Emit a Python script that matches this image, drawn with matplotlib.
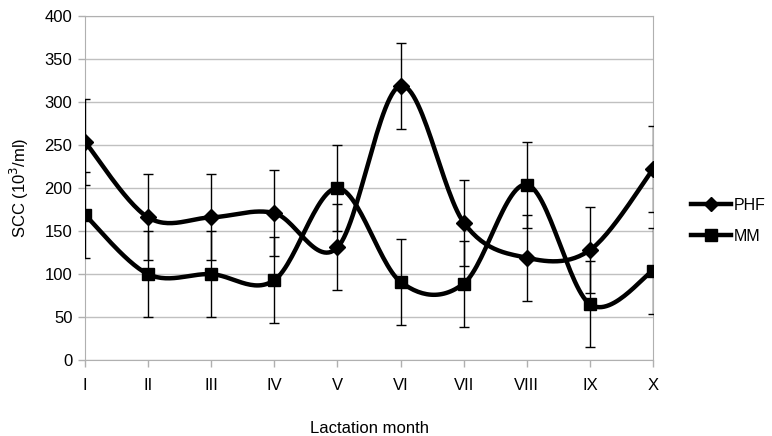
import matplotlib
matplotlib.use("Agg")
import matplotlib.pyplot as plt
import numpy as np

plt.rcParams['font.family'] = ['Liberation Sans', 'DejaVu Sans']

months = ["I", "II", "III", "IV", "V", "VI", "VII", "VIII", "IX", "X"]
phf = [254, 166, 166, 171, 131, 319, 160, 119, 128, 222]
mm = [169, 100, 100, 93, 200, 91, 89, 204, 65, 104]
phf_err = [50, 50, 50, 50, 50, 50, 50, 50, 50, 50]
mm_err = [50, 50, 50, 50, 50, 50, 50, 50, 50, 50]


def smooth(x, y, n=30):
    # catmull-rom like the spreadsheet's "smoothed line"
    x = np.asarray(x, float)
    y = np.asarray(y, float)
    px = np.concatenate([[x[0]], x, [x[-1]]])
    py = np.concatenate([[y[0]], y, [y[-1]]])
    xs, ys = [], []
    t = np.linspace(0, 1, n)
    for i in range(1, len(px) - 2):
        p0, p1, p2, p3 = (np.array([px[j], py[j]]) for j in range(i - 1, i + 3))
        c1 = p1 + (p2 - p0) / 6
        c2 = p2 - (p3 - p1) / 6
        b = ((1 - t) ** 3)[:, None] * p1 + (3 * (1 - t) ** 2 * t)[:, None] * c1 \
            + (3 * (1 - t) * t ** 2)[:, None] * c2 + (t ** 3)[:, None] * p2
        xs.extend(b[:, 0])
        ys.extend(b[:, 1])
    return np.array(xs), np.array(ys)


fig = plt.figure(figsize=(7.72, 4.36), dpi=100)
ax = fig.add_axes([0.110, 0.174, 0.736, 0.789])

x = np.arange(len(months))

ax.errorbar(x, phf, yerr=phf_err, fmt='none', ecolor='black', elinewidth=1, capsize=3.6, capthick=1, zorder=3)
ax.errorbar(x, mm, yerr=mm_err, fmt='none', ecolor='black', elinewidth=1, capsize=3.6, capthick=1, zorder=3)

sx, sy = smooth(x, phf)
ax.plot(sx, sy, color='black', lw=3.2, zorder=4, solid_capstyle='round')
ax.plot(x, phf, 'D', color='black', markersize=8.5, zorder=5)
sx, sy = smooth(x, mm)
ax.plot(sx, sy, color='black', lw=3.2, zorder=4, solid_capstyle='round')
ax.plot(x, mm, 's', color='black', markersize=9, zorder=5)

# legend handles
ax.plot([], [], color='black', lw=3.2, marker='D', markersize=7.5, label='PHF')
ax.plot([], [], color='black', lw=3.2, marker='s', markersize=8, label='MM')
handles, labels = ax.get_legend_handles_labels()
fig.legend(handles, labels, loc='center left', bbox_to_anchor=(0.877, 0.494), frameon=False,
           fontsize=11.5, handlelength=2.5, handletextpad=0.15, labelspacing=1.0)

ax.set_xlim(0, len(months) - 1)
ax.set_ylim(0, 400)
ax.set_yticks(np.arange(0, 401, 50))
ax.set_xticks(x)
ax.set_xticklabels(months)
ax.grid(axis='y', color='#c0c0c0', lw=1)
ax.set_axisbelow(True)
for s in ax.spines.values():
    s.set_color('#b0b0b0')
ax.tick_params(colors='#b0b0b0', labelcolor='black', labelsize=12, length=5, width=1)
ax.tick_params(axis='x', pad=8)
ax.tick_params(axis='y', pad=4)

ax.set_ylabel("SCC (10$^3$/ml)", fontsize=12, labelpad=10)
ax.set_xlabel("Lactation month", fontsize=12, labelpad=20)

fig.savefig("out.png", dpi=100)
